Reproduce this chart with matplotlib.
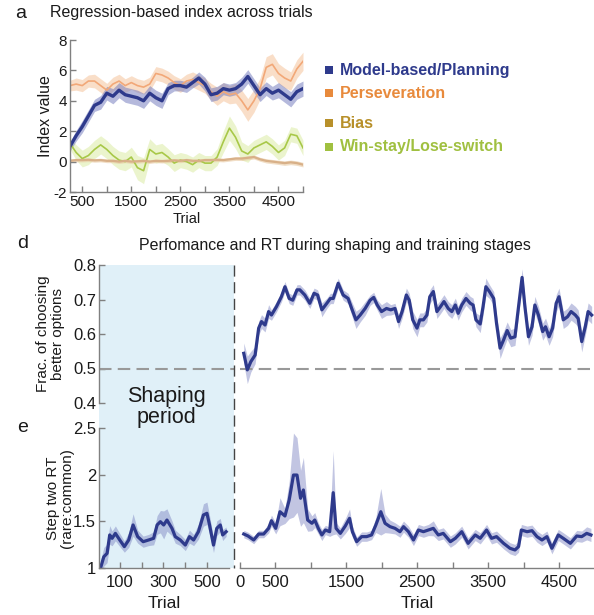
import matplotlib
matplotlib.use("Agg")
import matplotlib.pyplot as plt
import numpy as np
from matplotlib.patches import Rectangle
from matplotlib.lines import Line2D

plt.rcParams['font.family'] = ['Liberation Sans', 'DejaVu Sans']
plt.rcParams['axes.unicode_minus'] = False

# ---------------- Panel a data ----------------
trials_a = [250, 375, 500, 625, 750, 875, 1000, 1125, 1250, 1375, 1500, 1625, 1750,
            1875, 2000, 2125, 2250, 2375, 2500, 2625, 2750, 2875, 3000, 3125, 3250,
            3375, 3500, 3625, 3750, 3875, 4000, 4125, 4250, 4375, 4500, 4625, 4750,
            4875, 5000]
model_based = [1.0, 1.7, 2.3, 3.0, 3.7, 3.9, 4.5, 4.3, 4.7, 4.4, 4.3, 4.2, 4.0,
               4.5, 4.2, 4.0, 4.8, 5.0, 5.0, 4.9, 5.2, 5.5, 5.1, 4.4, 4.5,
               4.8, 4.7, 4.8, 5.1, 5.6, 5.0, 4.4, 4.8, 4.5, 4.7, 4.4, 4.1,
               4.6, 4.8]
model_based_sem = [0.3, 0.35, 0.4, 0.4, 0.4, 0.45, 0.45, 0.5, 0.5, 0.5, 0.5, 0.5, 0.5,
                   0.5, 0.5, 0.5, 0.4, 0.35, 0.35, 0.35, 0.35, 0.4, 0.45, 0.45, 0.45,
                   0.4, 0.4, 0.4, 0.45, 0.45, 0.45, 0.45, 0.45, 0.45, 0.5, 0.5, 0.5,
                   0.5, 0.5]
perseveration = [5.0, 5.1, 5.0, 5.3, 5.3, 5.0, 4.7, 5.1, 5.3, 5.0, 5.2, 5.0, 4.9,
                 5.1, 5.8, 5.7, 5.5, 5.2, 5.0, 5.3, 5.4, 5.2, 5.0, 4.6, 4.3,
                 4.6, 4.4, 4.5, 4.0, 3.4, 4.0, 4.8, 6.2, 6.4, 5.8, 5.5, 5.3,
                 6.1, 6.6]
perseveration_sem = [0.35, 0.4, 0.4, 0.4, 0.45, 0.45, 0.45, 0.45, 0.45, 0.45, 0.45, 0.45, 0.45,
                     0.45, 0.45, 0.45, 0.45, 0.45, 0.45, 0.45, 0.5, 0.5, 0.5, 0.55, 0.6,
                     0.6, 0.6, 0.65, 0.7, 0.75, 0.75, 0.7, 0.7, 0.7, 0.65, 0.65, 0.6,
                     0.6, 0.6]
bias = [0.05, 0.1, 0.1, 0.12, 0.08, 0.1, 0.05, 0.05, 0.0, 0.05, 0.0, 0.02, 0.05,
        0.0, 0.05, 0.03, 0.05, 0.08, 0.05, 0.1, 0.05, 0.05, 0.1, 0.1, 0.12,
        0.1, 0.15, 0.2, 0.2, 0.25, 0.3, 0.15, 0.05, 0.0, -0.05, -0.1, -0.05,
        -0.1, -0.2]
bias_sem = [0.12, 0.12, 0.12, 0.12, 0.12, 0.12, 0.12, 0.12, 0.12, 0.12, 0.12, 0.12, 0.12,
            0.12, 0.12, 0.12, 0.12, 0.12, 0.12, 0.12, 0.12, 0.12, 0.12, 0.12, 0.12,
            0.12, 0.12, 0.12, 0.13, 0.13, 0.13, 0.13, 0.14, 0.14, 0.14, 0.15, 0.15,
            0.15, 0.15]
win_stay = [1.2, 0.6, 0.2, 0.4, 0.8, 1.1, 0.8, 0.4, 0.1, 0.0, 0.3, -0.4, -0.6,
            0.8, 0.5, 0.6, 0.3, -0.1, 0.1, 0.0, -0.2, 0.1, -0.1, -0.1, 0.3,
            1.3, 2.2, 1.6, 0.7, 0.5, 0.9, 1.1, 1.3, 1.0, 0.6, 0.9, 1.8,
            1.7, 0.9]
win_stay_sem = [0.4, 0.5, 0.55, 0.6, 0.6, 0.6, 0.6, 0.6, 0.6, 0.6, 0.65, 0.8, 0.85,
                0.7, 0.6, 0.6, 0.55, 0.55, 0.5, 0.5, 0.5, 0.5, 0.5, 0.5, 0.55,
                0.7, 0.8, 0.75, 0.6, 0.55, 0.5, 0.5, 0.5, 0.5, 0.5, 0.5, 0.5,
                0.5, 0.5]

legend_labels = ["Model-based/Planning", "Perseveration", "Bias", "Win-stay/Lose-switch"]

# ---------------- Panel d data (training) ----------------
trials_d = [60, 110, 160, 220, 270, 310, 360, 410, 450, 520, 590, 640, 700, 750, 810,
            850, 920, 990, 1050, 1100, 1160, 1230, 1280, 1320, 1390, 1460, 1530, 1580,
            1640, 1700, 1770, 1840, 1890, 1940, 2000, 2070, 2130, 2190, 2240, 2290,
            2350, 2390, 2440, 2500, 2540, 2590, 2640, 2680, 2730, 2780, 2830, 2880,
            2940, 2990, 3040, 3080, 3130, 3190, 3250, 3290, 3330, 3390, 3430, 3470,
            3520, 3580, 3620, 3670, 3720, 3770, 3820, 3880, 3930, 3980, 4020, 4070,
            4120, 4160, 4210, 4270, 4310, 4360, 4410, 4460, 4500, 4560, 4620, 4670,
            4730, 4770, 4820, 4870, 4910, 4960]
frac_better = [0.544, 0.496, 0.52, 0.539, 0.617, 0.636, 0.626, 0.665, 0.655, 0.679,
               0.708, 0.737, 0.703, 0.698, 0.728, 0.728, 0.713, 0.689, 0.718, 0.713,
               0.670, 0.689, 0.703, 0.703, 0.747, 0.713, 0.703, 0.674, 0.641, 0.655,
               0.674, 0.698, 0.706, 0.684, 0.665, 0.674, 0.670, 0.674, 0.636, 0.665,
               0.713, 0.698, 0.641, 0.617, 0.641, 0.641, 0.655, 0.708, 0.723, 0.665,
               0.679, 0.694, 0.674, 0.665, 0.684, 0.660, 0.684, 0.703, 0.689, 0.684,
               0.641, 0.629, 0.679, 0.737, 0.723, 0.703, 0.631, 0.559, 0.583, 0.610,
               0.588, 0.592, 0.679, 0.764, 0.679, 0.592, 0.621, 0.684, 0.655, 0.607,
               0.621, 0.592, 0.617, 0.689, 0.708, 0.641, 0.650, 0.665, 0.655, 0.645,
               0.578, 0.621, 0.665, 0.655]
frac_better_sem = [0.03, 0.04, 0.03, 0.025, 0.02, 0.02, 0.02, 0.02, 0.015, 0.015,
                   0.015, 0.015, 0.015, 0.015, 0.015, 0.015, 0.015, 0.015, 0.015, 0.015,
                   0.02, 0.015, 0.015, 0.015, 0.015, 0.015, 0.015, 0.02, 0.025, 0.02,
                   0.02, 0.015, 0.015, 0.015, 0.02, 0.02, 0.015, 0.015, 0.02, 0.02,
                   0.02, 0.02, 0.025, 0.025, 0.02, 0.02, 0.02, 0.02, 0.02, 0.02,
                   0.02, 0.02, 0.02, 0.02, 0.02, 0.02, 0.02, 0.02, 0.02, 0.02,
                   0.02, 0.025, 0.025, 0.025, 0.02, 0.02, 0.025, 0.03, 0.025, 0.025,
                   0.025, 0.025, 0.025, 0.025, 0.025, 0.025, 0.025, 0.025, 0.025, 0.025,
                   0.025, 0.025, 0.025, 0.025, 0.025, 0.025, 0.025, 0.025, 0.025, 0.025,
                   0.03, 0.025, 0.025, 0.025]

# ---------------- Panel e data ----------------
trials_e_shaping = [12, 27, 42, 54, 65, 80, 100, 121, 141, 161, 182, 207, 232, 255,
                    271, 286, 301, 316, 339, 354, 377, 400, 419, 438, 460, 483, 499,
                    511, 529, 544, 560, 571, 587]
rt_ratio_shaping = [1.0, 1.12, 1.157, 1.354, 1.318, 1.371, 1.30, 1.229, 1.30, 1.461,
                    1.336, 1.282, 1.30, 1.318, 1.461, 1.496, 1.461, 1.514, 1.425, 1.336,
                    1.30, 1.246, 1.336, 1.30, 1.389, 1.568, 1.586, 1.461, 1.246, 1.425,
                    1.461, 1.354, 1.389]
rt_ratio_shaping_sem = [0.08, 0.1, 0.1, 0.1, 0.08, 0.08, 0.07, 0.06, 0.08, 0.12,
                        0.07, 0.06, 0.06, 0.07, 0.1, 0.12, 0.15, 0.12, 0.08, 0.07,
                        0.06, 0.06, 0.07, 0.06, 0.08, 0.12, 0.12, 0.1, 0.08, 0.08,
                        0.07, 0.06, 0.05]
trials_e = [60, 120, 200, 270, 340, 410, 450, 510, 570, 640, 700, 760, 810, 860, 900,
            960, 1020, 1060, 1110, 1160, 1210, 1270, 1320, 1360, 1420, 1490, 1550,
            1590, 1650, 1720, 1790, 1860, 1920, 1990, 2050, 2120, 2190, 2260, 2310,
            2380, 2450, 2520, 2590, 2660, 2730, 2800, 2870, 2970, 3040, 3130, 3220,
            3320, 3390, 3480, 3550, 3620, 3720, 3810, 3880, 3930, 3970, 4050, 4120,
            4190, 4260, 4330, 4400, 4490, 4560, 4660, 4750, 4820, 4890, 4950]
rt_ratio = [1.364, 1.343, 1.30, 1.364, 1.364, 1.425, 1.507, 1.425, 1.603, 1.557,
            1.729, 1.996, 1.996, 1.747, 1.836, 1.514, 1.479, 1.514, 1.425, 1.354,
            1.407, 1.389, 1.807, 1.425, 1.371, 1.45, 1.532, 1.389, 1.282, 1.336,
            1.336, 1.354, 1.46, 1.603, 1.479, 1.443, 1.425, 1.389, 1.443, 1.389,
            1.30, 1.407, 1.389, 1.407, 1.425, 1.354, 1.371, 1.282, 1.318, 1.389,
            1.264, 1.354, 1.318, 1.407, 1.318, 1.336, 1.264, 1.211, 1.193, 1.229,
            1.407, 1.389, 1.40, 1.336, 1.30, 1.336, 1.211, 1.354, 1.318, 1.264,
            1.343, 1.336, 1.371, 1.354]
rt_ratio_sem = [0.04, 0.04, 0.04, 0.04, 0.04, 0.05, 0.06, 0.06, 0.15, 0.08,
                0.2, 0.45, 0.4, 0.3, 0.35, 0.12, 0.08, 0.08, 0.06, 0.06,
                0.05, 0.05, 0.45, 0.06, 0.06, 0.08, 0.1, 0.06, 0.05, 0.05,
                0.05, 0.05, 0.08, 0.25, 0.1, 0.07, 0.06, 0.06, 0.06, 0.06,
                0.06, 0.06, 0.06, 0.06, 0.08, 0.06, 0.06, 0.06, 0.06, 0.06,
                0.06, 0.06, 0.06, 0.06, 0.06, 0.06, 0.06, 0.06, 0.06, 0.06,
                0.06, 0.06, 0.06, 0.06, 0.06, 0.06, 0.06, 0.06, 0.06, 0.06,
                0.06, 0.06, 0.07, 0.07]

# ---------------- styling ----------------
W, H = 594, 615
fig = plt.figure(figsize=(W / 100, H / 100), dpi=100)

def rect(x0, y0, x1, y1):
    return [x0 / W, 1 - y1 / H, (x1 - x0) / W, (y1 - y0) / H]

BLUE = '#2e3a8c'
BAND = '#7880c0'
ORANGE_LINE = '#f2a878'
ORANGE_BAND = '#f5c49c'
ORANGE_TXT = '#e88a3c'
BIAS_LINE = '#d8b088'
BIAS_BAND = '#e8c8a0'
BIAS_TXT = '#b8902a'
GREEN_LINE = '#a8c848'
GREEN_BAND = '#d8ea9c'
GREEN_TXT = '#a0c040'
SPINE = '#808080'
TXT = '#1a1a1a'

def style(ax, fs, left=True, bottom=True, pad=2):
    for s in ['top', 'right']:
        ax.spines[s].set_visible(False)
    ax.spines['left'].set_visible(left)
    ax.spines['bottom'].set_visible(bottom)
    for s in ['left', 'bottom']:
        ax.spines[s].set_color(SPINE)
        ax.spines[s].set_linewidth(1.0)
    ax.tick_params(direction='in', length=4, width=1, color=SPINE, labelsize=fs,
                   labelcolor=TXT, which='both', pad=pad)
    ax.patch.set_alpha(0)

# ---------------- shaping background ----------------
fig.patches.append(Rectangle((99 / W, 1 - 568 / H), 135 / W, 303 / H,
                             transform=fig.transFigure, color='#e0f0f8', lw=0,
                             zorder=-10))

# ---------------- Panel a ----------------
ax = fig.add_axes(rect(70, 40, 303, 192))
style(ax, 11)
ta = np.array(trials_a)
for vals, sem, lc, bc, lw, ba in [
        (perseveration, perseveration_sem, ORANGE_LINE, ORANGE_BAND, 1.2, 0.55),
        (win_stay, win_stay_sem, GREEN_LINE, GREEN_BAND, 1.2, 0.5),
        (bias, bias_sem, BIAS_LINE, BIAS_BAND, 1.6, 0.6),
        (model_based, model_based_sem, BLUE, BAND, 2.4, 0.55)]:
    v = np.array(vals); s = np.array(sem)
    ax.fill_between(ta, v - s, v + s, color=bc, alpha=ba, lw=0)
    ax.plot(ta, v, color=lc, lw=lw)
ax.set_xlim(250, 5000)
ax.set_ylim(-2, 8)
ax.set_yticks([-2, 0, 2, 4, 6, 8])
ax.set_xticks([500, 1500, 2500, 3500, 4500])
ax.set_xticks([1000, 2000, 3000, 4000, 5000], minor=True)
ax.set_xlabel('Trial', fontsize=10.5, color=TXT, labelpad=2)
ax.set_ylabel('Index value', fontsize=11.5, color=TXT)
ax.yaxis.set_label_coords(-0.073, 0.5)

fig.text(15 / W, 1 - 13 / H, 'a', fontsize=14, color=TXT, va='center')
fig.text(50 / W, 1 - 13 / H, 'Regression-based index across trials', fontsize=11.5,
         color=TXT, va='center')

# legend
leg_rows = [(70, BLUE), (93, ORANGE_TXT), (123, BIAS_TXT), (147, GREEN_TXT)]
for (yy, c), lab in zip(leg_rows, legend_labels):
    fig.patches.append(Rectangle((325 / W, 1 - (yy + 4) / H), 8 / W, 8 / H,
                                 transform=fig.transFigure, color=c, lw=0))
    fig.text(340 / W, 1 - yy / H, lab, fontsize=11.5, fontweight='bold', color=c,
             va='center')

# ---------------- Panel d ----------------
axdl = fig.add_axes(rect(99, 265, 234, 403))
style(axdl, 12, left=True, bottom=False)
axdl.set_ylim(0.4, 0.8)
axdl.set_yticks([0.4, 0.5, 0.6, 0.7, 0.8])
axdl.set_yticklabels(['0.4', '0.5', '0.6', '0.7', '0.8'])
axdl.set_xlim(0, 600)
axdl.set_xticks([])
axdl.set_ylabel('Frac. of choosing\nbetter options', fontsize=11, color=TXT,
                linespacing=1.05)
axdl.yaxis.set_label_coords(-0.255, 0.5)
axdl.axhline(0.5, color='#999999', lw=1.5, dashes=(6, 3))

axdr = fig.add_axes(rect(239.5, 265, 594.5, 403))
style(axdr, 12, left=False, bottom=False)
axdr.set_ylim(0.4, 0.8)
axdr.set_xlim(0, 5000)
axdr.set_xticks([]); axdr.set_yticks([])
axdr.axhline(0.5, color='#999999', lw=1.5, dashes=(6, 3))
td = np.array(trials_d); fd = np.array(frac_better); fs = np.array(frac_better_sem)
axdr.fill_between(td, fd - fs, fd + fs, color=BAND, alpha=0.45, lw=0)
axdr.plot(td, fd, color=BLUE, lw=2.3)

fig.text(17 / W, 1 - 243 / H, 'd', fontsize=14, color=TXT, va='center')
fig.text(335 / W, 1 - 245 / H, 'Perfomance and RT during shaping and training stages',
         fontsize=11.5, color=TXT, va='center', ha='center')

# ---------------- Panel e ----------------
axel = fig.add_axes(rect(99, 428, 229, 568))
style(axel, 12, pad=5)
axel.set_xlim(5, 600)
axel.set_ylim(1, 2.5)
axel.set_yticks([1, 1.5, 2, 2.5])
axel.set_yticklabels(['1', '1.5', '2', '2.5'])
axel.tick_params(axis='y', pad=2)
axel.set_xticks([100, 300, 500])
axel.set_xticks([200, 400], minor=True)
ts = np.array(trials_e_shaping); rs = np.array(rt_ratio_shaping); ss = np.array(rt_ratio_shaping_sem)
axel.fill_between(ts, rs - ss, rs + ss, color=BAND, alpha=0.45, lw=0)
axel.plot(ts, rs, color=BLUE, lw=2.3)
axel.set_xlabel('Trial', fontsize=12.5, color=TXT, labelpad=4)
axel.set_ylabel('Step two RT\n(rare:common)', fontsize=11, color=TXT,
                linespacing=1.05)
axel.yaxis.set_label_coords(-0.19, 0.5)

axer = fig.add_axes(rect(239.5, 428, 594.5, 568))
style(axer, 12, left=False, bottom=True, pad=5)
axer.set_xlim(0, 5000)
axer.set_ylim(1, 2.5)
axer.set_yticks([])
axer.set_xticks([0, 500, 1500, 2500, 3500, 4500])
axer.set_xticks([1000, 2000, 3000, 4000, 5000], minor=True)
te = np.array(trials_e); re_ = np.array(rt_ratio); se = np.array(rt_ratio_sem)
axer.fill_between(te, re_ - se, re_ + se, color=BAND, alpha=0.45, lw=0)
axer.plot(te, re_, color=BLUE, lw=2.3)
axer.set_xlabel('Trial', fontsize=12.5, color=TXT, labelpad=4)

fig.text(17 / W, 1 - 428 / H, 'e', fontsize=14, color=TXT, va='center')

# dashed vertical separator
fig.add_artist(Line2D([234 / W, 234 / W], [1 - 265 / H, 1 - 568 / H],
                      transform=fig.transFigure, color='#444444', lw=1.0,
                      dashes=(8, 4)))
fig.text(166 / W, 1 - 407 / H, 'Shaping\nperiod', fontsize=15.5, color=TXT,
         ha='center', va='center', linespacing=1.0)

fig.savefig('out.png', dpi=100)
